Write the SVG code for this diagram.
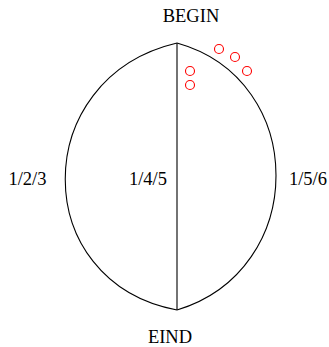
<svg xmlns="http://www.w3.org/2000/svg" width="329" height="347" viewBox="0 0 329 347">
<style>
.e{fill:none;stroke:#000;stroke-width:1.1}
.t{font-family:"Liberation Serif",serif;font-size:18.5px;fill:#000}
.c{fill:none;stroke:#f00;stroke-width:1.1}
</style>
<rect width="329" height="347" fill="#fff"/>
<g id="connectors">
<path class="e" d="M177,43 C28,78 28,282 177,310"/>
<path class="e" d="M177,43 C309,80 309,270 177,310"/>
<path class="e" d="M177,43 L177,310"/>
</g>
<g id="begin"><text class="t" x="191" y="22" text-anchor="middle">BEGIN</text></g>
<g id="eind"><text class="t" x="170" y="343" text-anchor="middle">EIND</text></g>
<g id="l123"><text class="t" x="27.5" y="185" text-anchor="middle">1/2/3</text></g>
<g id="l145"><text class="t" x="148" y="185" text-anchor="middle">1/4/5</text></g>
<g id="l156"><text class="t" x="308" y="185" text-anchor="middle">1/5/6</text></g>
<g id="marks">
<circle class="c" cx="219" cy="49" r="4.5"/>
<circle class="c" cx="235" cy="57" r="4.5"/>
<circle class="c" cx="247" cy="71" r="4.5"/>
<circle class="c" cx="190" cy="71" r="4.5"/>
<circle class="c" cx="190" cy="85" r="4.5"/>
</g>
</svg>
